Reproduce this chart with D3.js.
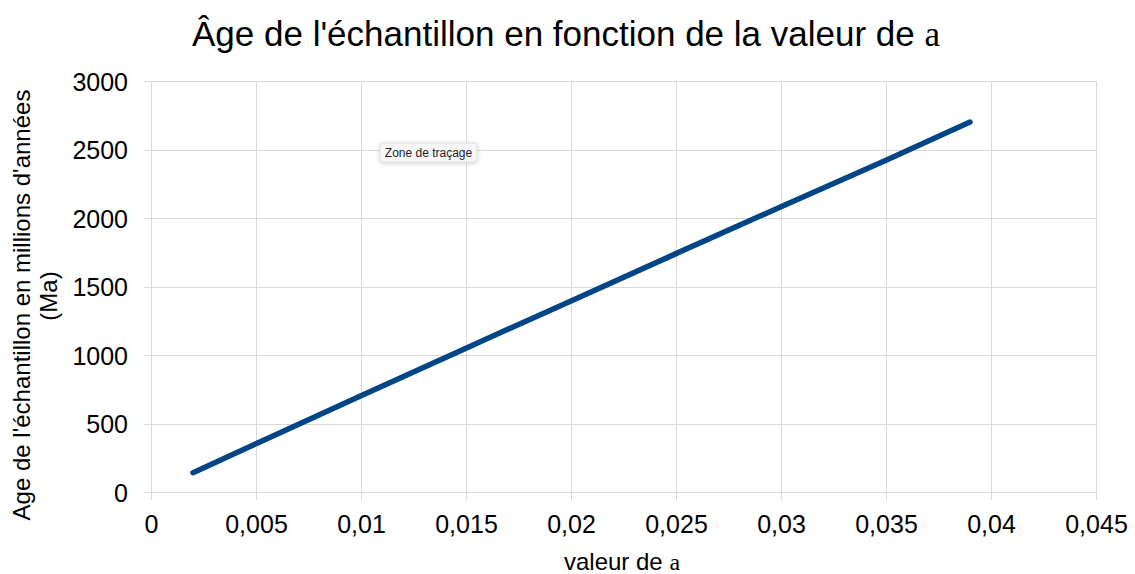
<!DOCTYPE html>
<html lang="fr">
<head>
    <meta charset="utf-8">
    <title>Âge de l'échantillon en fonction de la valeur de a</title>
    <script src="https://cdn.jsdelivr.net/npm/d3@7/dist/d3.min.js" type="text/javascript"></script>
    <style>
        body { margin: 0; background: #fff; }
        svg { display: block; font-family: "Liberation Sans", Arial, sans-serif; }
        .grid line { stroke: #d9d9d9; stroke-width: 1; shape-rendering: crispEdges; }
        .tick text { font-size: 25px; fill: #000; }
    </style>
</head>
<body>

<div id='chart'>
    <svg width="1135" height="574"></svg>
</div>

<script>

// values
var aValues = [0.002, 0.005, 0.01, 0.015, 0.02, 0.025, 0.03, 0.035, 0.039];
var ageMa   = [141, 353, 703, 1050, 1395, 1740, 2082, 2422, 2700];

var xTicks = [0, 0.005, 0.01, 0.015, 0.02, 0.025, 0.03, 0.035, 0.04, 0.045];
var yTicks = [0, 500, 1000, 1500, 2000, 2500, 3000];

var fr = d3.formatLocale({decimal: ",", thousands: "", grouping: [3], currency: ["", " €"]});
var fmtX = fr.format("~g");
var fmtY = fr.format("d");

// plot area
var plotL = 151, plotR = 1096, plotT = 81, plotB = 492;

var x = d3.scaleLinear().domain([0, 0.045]).range([plotL, plotR]);
var y = d3.scaleLinear().domain([0, 3000]).range([plotB, plotT]);

var svg = d3.select('#chart svg');

// x axis : vertical grid lines + labels
var xAxis = d3.axisBottom(x)
    .tickValues(xTicks)
    .tickFormat(fmtX)
    .tickSizeInner(-(plotB - plotT))
    .tickSizeOuter(0);

var gx = svg.append('g')
    .attr('class', 'grid')
    .attr('transform', 'translate(0,' + plotB + ')')
    .call(xAxis);
gx.select('.domain').remove();
gx.selectAll('.tick line').attr('y1', 8);
gx.selectAll('.tick text').attr('y', 41).attr('dy', 0);

// y axis : horizontal grid lines + labels
var yAxis = d3.axisLeft(y)
    .tickValues(yTicks)
    .tickFormat(fmtY)
    .tickSizeInner(-(plotR - plotL))
    .tickSizeOuter(0);

var gy = svg.append('g')
    .attr('class', 'grid')
    .attr('transform', 'translate(' + plotL + ',0)')
    .call(yAxis);
gy.select('.domain').remove();
gy.selectAll('.tick line').attr('x1', -7);
gy.selectAll('.tick text').attr('x', -23).attr('dy', 9);

// the series
var line = d3.line()
    .x(function(d, i) { return x(aValues[i]); })
    .y(function(d) { return y(d); });

svg.append('path')
    .datum(ageMa)
    .attr('d', line)
    .attr('fill', 'none')
    .attr('stroke', '#004586')
    .attr('stroke-width', 5.5)
    .attr('stroke-linecap', 'round')
    .attr('stroke-linejoin', 'round');

// title
var title = svg.append('text')
    .attr('x', 566)
    .attr('y', 46)
    .attr('text-anchor', 'middle')
    .style('font-size', '35px');
title.append('tspan').text("Âge de l'échantillon en fonction de la valeur de ");
title.append('tspan').style('font-family', '"Liberation Serif", serif').text('a');

// axis titles
var xt = svg.append('text')
    .attr('x', 622)
    .attr('y', 570)
    .attr('text-anchor', 'middle')
    .style('font-size', '24px');
xt.append('tspan').text('valeur de ');
xt.append('tspan').style('font-family', '"Liberation Serif", serif').text('a');

svg.append('text')
    .attr('transform', 'translate(30,305) rotate(-90)')
    .attr('text-anchor', 'middle')
    .style('font-size', '24px')
    .text("Age de l'échantillon en millions d'années");
svg.append('text')
    .attr('transform', 'translate(57,296) rotate(-90)')
    .attr('text-anchor', 'middle')
    .style('font-size', '24px')
    .text('(Ma)');

// little "Zone de traçage" tooltip left on the plot
var defs = svg.append('defs');
var f = defs.append('filter').attr('id', 'shadow')
    .attr('x', '-20%').attr('y', '-50%').attr('width', '140%').attr('height', '200%');
f.append('feDropShadow').attr('dx', 0).attr('dy', 1).attr('stdDeviation', 2)
    .attr('flood-color', '#000').attr('flood-opacity', 0.18);

svg.append('rect')
    .attr('x', 380).attr('y', 143)
    .attr('width', 97).attr('height', 19)
    .attr('rx', 3)
    .attr('fill', '#f7f7f7')
    .attr('stroke', '#dedede')
    .attr('filter', 'url(#shadow)');
svg.append('text')
    .attr('x', 428.5).attr('y', 157)
    .attr('text-anchor', 'middle')
    .style('font-size', '12px')
    .style('fill', '#222')
    .text('Zone de traçage');

</script>

</body>
</html>
